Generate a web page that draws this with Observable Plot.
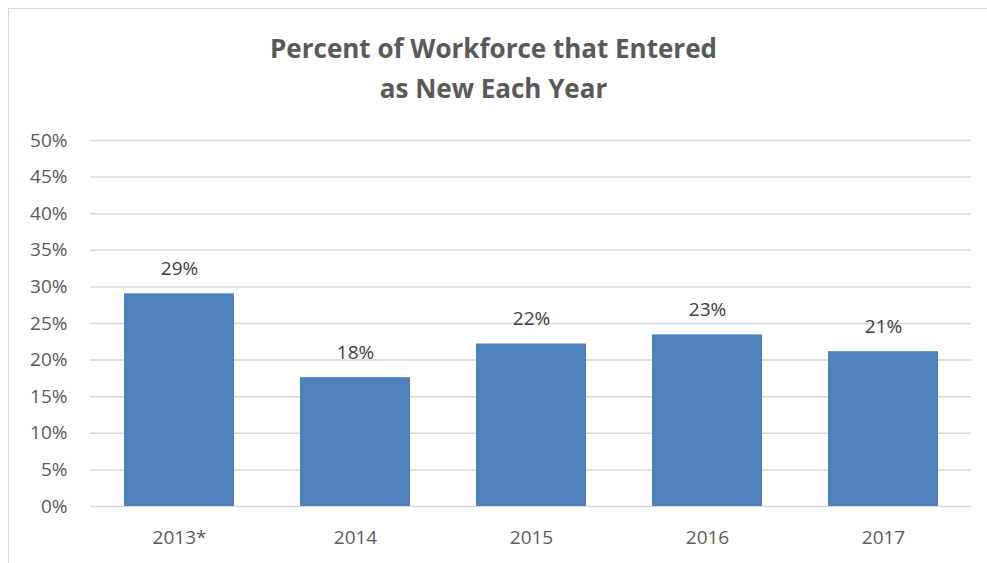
<!DOCTYPE html>
<html><head><meta charset="utf-8">
<script src="https://cdn.jsdelivr.net/npm/d3@7"></script>
<script src="https://cdn.jsdelivr.net/npm/@observablehq/plot@0.6"></script>
<style>
body{margin:0;background:#fff;width:987px;height:563px;overflow:hidden;}
#wrap{position:relative;width:987px;height:563px;}
#frame{position:absolute;left:8px;top:8px;width:985px;height:560px;border-left:1.5px solid #d9d9d9;border-top:1.5px solid #d9d9d9;}
.t{position:absolute;left:0;width:987px;text-align:center;font-family:"Open Sans";font-weight:700;font-size:26px;color:#595959;line-height:30px;}
#chart{position:absolute;left:0;top:120px;}
</style></head>
<body><div id="wrap"><div id="frame"></div>
<div class="t" style="top:33px;">Percent of Workforce that Entered</div>
<div class="t" style="top:73px;">as New Each Year</div>
<div id="chart"></div></div>
<script>
const years = ["2013*", "2014", "2015", "2016", "2017"];
const values = [29.05, 17.6, 22.2, 23.45, 21.15];
const labels = ["29%", "18%", "22%", "23%", "21%"];
const yTicks = [0, 5, 10, 15, 20, 25, 30, 35, 40, 45, 50];

const data = years.map((y, i) => ({year: y, value: values[i], label: labels[i]}));

const chart = Plot.plot({
  width: 987,
  height: 443,
  marginTop: 20,
  marginBottom: 57,
  marginLeft: 90,
  marginRight: 16,
  style: {fontFamily: "Open Sans", fontSize: "19px", color: "#595959", background: "transparent"},
  x: {domain: years, paddingInner: 0.375, paddingOuter: 0.1875, label: null},
  y: {domain: [0, 50], label: null},
  marks: [
    Plot.ruleY(yTicks, {stroke: "#d9d9d9", strokeWidth: 1.5}),
    Plot.barY(data, {x: "year", y: "value", fill: "#4F81BD"}),
    Plot.text(data, {x: "year", y: "value", text: "label", dy: -25, fill: "#404040", fontSize: 19}),
    Plot.axisY({ticks: yTicks, tickFormat: d => d + "%", tickSize: 0, tickPadding: 23, fontSize: 19, fill: "#595959"}),
    Plot.axisX({tickSize: 0, tickPadding: 24, fontSize: 19, fill: "#595959"})
  ]
});
document.getElementById("chart").appendChild(chart);
</script></body></html>
